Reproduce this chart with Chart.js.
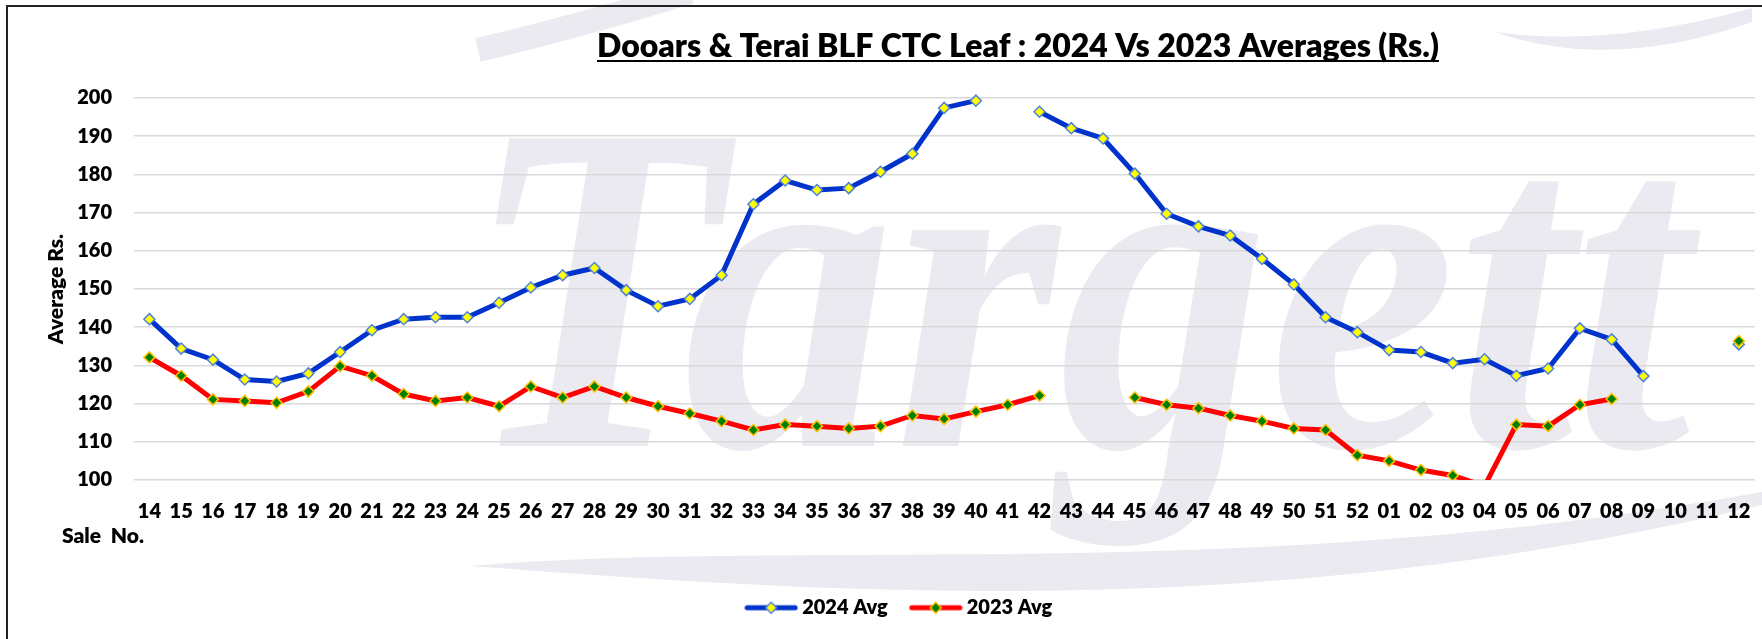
<!DOCTYPE html>
<html>
<head>
<meta charset="utf-8">
<title>Dooars &amp; Terai BLF CTC Leaf : 2024 Vs 2023 Averages</title>
<script src="https://cdn.jsdelivr.net/npm/chart.js@4.4.1/dist/chart.umd.min.js"></script>
<style>
  html, body { margin: 0; padding: 0; background: #ffffff; }
  #wrap { width: 1762px; height: 639px; }
  canvas { display: block; }
</style>
</head>
<body>
<div id="wrap"><canvas id="chart" width="1762" height="639"></canvas></div>
<script>
// Sale numbers: 14..52 of the first year, then 01..12 of the next
const saleNos = ['14','15','16','17','18','19','20','21','22','23','24','25','26','27','28','29','30',
  '31','32','33','34','35','36','37','38','39','40','41','42','43','44','45','46','47','48','49','50',
  '51','52','01','02','03','04','05','06','07','08','09','10','11','12'];

// Average price (Rs.) per sale, 2024 season
const avg2024 = [142.1, 134.4, 131.5, 126.3, 125.8, 127.9, 133.5, 139.2, 142.1, 142.6, 142.6, 146.4,
  150.4, 153.6, 155.5, 149.7, 145.5, 147.4, 153.6, 172.2, 178.4, 175.9, 176.4, 180.7, 185.4, 197.4,
  199.3, null, 196.4, 192.1, 189.4, 180.2, 169.7, 166.4, 164.0, 157.9, 151.2, 142.6, 138.7, 134.0,
  133.5, 130.6, 131.6, 127.3, 129.2, 139.7, 136.8, 127.2, null, null, 135.5];

// Average price (Rs.) per sale, 2023 season
const avg2023 = [132.1, 127.3, 121.1, 120.7, 120.2, 123.2, 129.8, 127.3, 122.5, 120.7, 121.6, 119.3,
  124.5, 121.6, 124.5, 121.6, 119.3, 117.4, 115.4, 113.1, 114.5, 114.1, 113.5, 114.1, 116.9, 116.0,
  117.9, 119.7, 122.1, null, null, 121.6, 119.7, 118.8, 116.9, 115.4, 113.5, 113.1, 106.5, 105.0,
  102.6, 101.2, 98.4, 114.5, 114.1, 119.7, 121.2, null, null, null, 136.4];

// Value axis range and tick step
const yAxisMin = 100;
const yAxisMax = 200;
const yAxisStep = 10;

const FONT = 'Lato, "Open Sans", sans-serif';
const HEAVY = 800;
const TITLE = 'Dooars & Terai BLF CTC Leaf : 2024 Vs 2023 Averages (Rs.)';

// Small line-with-diamond glyph used as legend symbol
function legendGlyph(lineColor, fill, stroke) {
  const c = document.createElement('canvas');
  c.width = 54; c.height = 14;
  const g = c.getContext('2d');
  g.strokeStyle = lineColor; g.lineWidth = 5; g.lineCap = 'round';
  g.beginPath(); g.moveTo(3, 7); g.lineTo(51, 7); g.stroke();
  g.beginPath();
  g.moveTo(27, 1.5); g.lineTo(32.5, 7); g.lineTo(27, 12.5); g.lineTo(21.5, 7); g.closePath();
  g.fillStyle = fill; g.fill();
  g.lineWidth = 1.5; g.strokeStyle = stroke; g.stroke();
  return c;
}

const seriesStyle = {
  '2024 Avg': { line: '#0033CC', fill: '#FFFF00', stroke: '#4F81D9' },
  '2023 Avg': { line: '#FF0000', fill: '#008000', stroke: '#FFC000' }
};

// Faint company watermark behind the plot, plus the page frame
const backdrop = {
  id: 'backdrop',
  beforeDraw(chart) {
    const ctx = chart.ctx;
    ctx.save();
    ctx.fillStyle = '#ffffff';
    ctx.fillRect(0, 0, chart.width, chart.height);

    ctx.fillStyle = 'rgb(234,234,240)';
    ctx.strokeStyle = 'rgb(234,234,240)';
    ctx.save();
    ctx.font = 'italic bold 470px "Liberation Serif"';
    const w = ctx.measureText('Targett').width;
    ctx.translate(465, 446);
    ctx.scale(1225 / w, 1);
    ctx.textBaseline = 'alphabetic';
    ctx.fillText('Targett', 0, 0);
    ctx.restore();

    // lower swoosh
    ctx.beginPath();
    ctx.moveTo(470, 566);
    ctx.bezierCurveTo(800, 590, 1250, 628, 1762, 505);
    ctx.lineTo(1762, 492);
    ctx.bezierCurveTo(1250, 585, 800, 538, 470, 566);
    ctx.closePath();
    ctx.fill();

    // upper swooshes
    ctx.lineWidth = 24;
    ctx.beginPath();
    ctx.moveTo(478, 50);
    ctx.quadraticCurveTo(580, 26, 690, -8);
    ctx.stroke();
    ctx.beginPath();
    ctx.moveTo(1495, 32);
    ctx.quadraticCurveTo(1610, 48, 1752, 8);
    ctx.lineTo(1752, 22);
    ctx.quadraticCurveTo(1610, 72, 1495, 32);
    ctx.closePath();
    ctx.fill();

    // frame
    ctx.strokeStyle = '#222222';
    ctx.lineWidth = 2;
    ctx.beginPath();
    ctx.moveTo(7, 639);
    ctx.lineTo(7, 6);
    ctx.lineTo(1762, 6);
    ctx.stroke();
    ctx.restore();
  }
};

// Underlined chart heading and the category-axis caption
const captions = {
  id: 'captions',
  afterDraw(chart) {
    const ctx = chart.ctx;
    ctx.save();
    ctx.fillStyle = '#000000';
    ctx.font = HEAVY + ' 100px ' + FONT;
    const size = 100 * 842 / ctx.measureText(TITLE).width;
    ctx.font = HEAVY + ' ' + size.toFixed(2) + 'px ' + FONT;
    const tw = ctx.measureText(TITLE).width;
    ctx.textAlign = 'left';
    ctx.textBaseline = 'alphabetic';
    ctx.fillText(TITLE, 597, 56.5);
    ctx.strokeStyle = '#000000';
    ctx.lineWidth = 2;
    ctx.beginPath();
    ctx.moveTo(597, 61);
    ctx.lineTo(597 + tw, 61);
    ctx.stroke();

    ctx.font = HEAVY + ' 21px ' + FONT;
    ctx.textBaseline = 'middle';
    ctx.fillText('Sale  No.', 62, 536);
    ctx.restore();
  }
};

const tickFont = { family: FONT, size: 20, weight: HEAVY };

new Chart(document.getElementById('chart'), {
  type: 'line',
  data: {
    labels: saleNos,
    datasets: [
      {
        label: '2024 Avg', data: avg2024, order: 1,
        borderColor: seriesStyle['2024 Avg'].line, borderWidth: 5,
        pointStyle: 'rectRot', pointRadius: 5.5, pointHoverRadius: 5.5,
        pointBackgroundColor: seriesStyle['2024 Avg'].fill,
        pointBorderColor: seriesStyle['2024 Avg'].stroke, pointBorderWidth: 1.5,
        tension: 0, spanGaps: false,
        clip: { left: 20, top: 20, right: 20, bottom: 0 }
      },
      {
        label: '2023 Avg', data: avg2023, order: 0,
        borderColor: seriesStyle['2023 Avg'].line, borderWidth: 5,
        pointStyle: 'rectRot', pointRadius: 5.5, pointHoverRadius: 5.5,
        pointBackgroundColor: seriesStyle['2023 Avg'].fill,
        pointBorderColor: seriesStyle['2023 Avg'].stroke, pointBorderWidth: 1.5,
        tension: 0, spanGaps: false,
        clip: { left: 20, top: 20, right: 20, bottom: 0 }
      }
    ]
  },
  options: {
    responsive: false,
    animation: false,
    devicePixelRatio: 1,
    layout: { padding: { left: 47.5, right: 7, top: 98, bottom: 11.3 } },
    plugins: {
      title: { display: false },
      tooltip: { enabled: false },
      legend: {
        position: 'bottom',
        align: 'center',
        labels: {
          font: tickFont,
          color: '#000000',
          usePointStyle: true,
          pointStyleWidth: 42,
          padding: 27,
          sort: (a, b) => a.datasetIndex - b.datasetIndex,
          generateLabels(chart) {
            const items = Chart.defaults.plugins.legend.labels.generateLabels(chart);
            items.forEach(it => {
              const s = seriesStyle[it.text];
              it.pointStyle = legendGlyph(s.line, s.fill, s.stroke);
            });
            return items;
          }
        }
      }
    },
    scales: {
      x: {
        type: 'category',
        offset: true,
        grid: { display: false },
        border: { display: false },
        ticks: { font: tickFont, color: '#000000', padding: 11.5, autoSkip: false, maxRotation: 0, minRotation: 0 },
        afterFit(scale) { scale.height = 90.7; }
      },
      y: {
        min: yAxisMin,
        max: yAxisMax,
        grid: { color: '#D9D9D9', lineWidth: 1.5, drawTicks: false },
        border: { display: false },
        ticks: { stepSize: yAxisStep, font: tickFont, color: '#000000', padding: 21.5 },
        title: {
          display: true, text: 'Average Rs.', color: '#000000',
          font: { family: FONT, size: 21, weight: HEAVY, lineHeight: 0.82 },
          padding: 0
        },
        afterFit(scale) { scale.width = 86; }
      }
    }
  },
  plugins: [backdrop, captions]
});
</script>
</body>
</html>
